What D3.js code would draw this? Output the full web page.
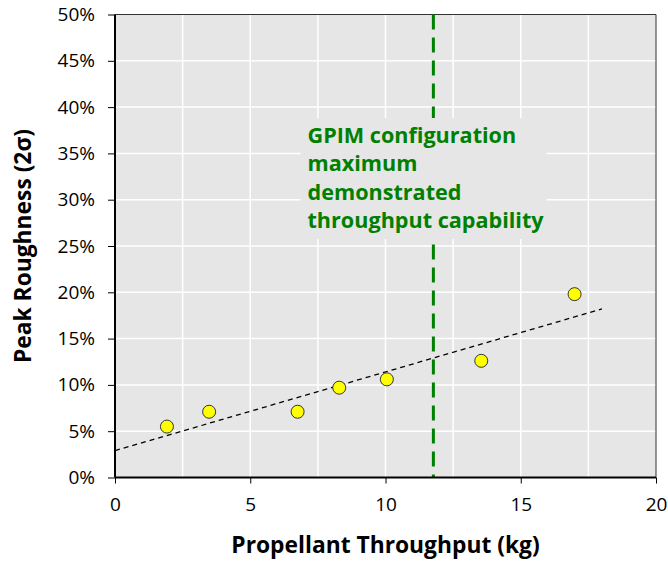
<!DOCTYPE html>
<meta charset="utf-8">
<style>
body { margin: 0; background: #fff; }
text { font-family: "Open Sans", sans-serif; fill: #000; }
.tick text { font-size: 19px; }
.axis-title { font-size: 22.8px; font-weight: bold; }
.note { font-size: 21.6px; font-weight: bold; fill: #008000; }
</style>
<svg width="668" height="565"></svg>
<script src="https://cdnjs.cloudflare.com/ajax/libs/d3/7.8.5/d3.min.js"></script>
<script>

// measured points (kg, % roughness)
var throughput = [1.92, 3.48, 6.75, 8.29, 10.05, 13.54, 16.99];
var roughness = [5.5, 7.1, 7.1, 9.7, 10.6, 12.6, 19.8];

// linear trend drawn in the original (end points)
var trendX = [0, 18];
var trendY = [2.9, 18.2];

var gpimLimit = 11.77;
var noteLines = ["GPIM configuration", "maximum", "demonstrated", "throughput capability"];

var xTicks = [0, 5, 10, 15, 20];
var yTicks = [0, 5, 10, 15, 20, 25, 30, 35, 40, 45, 50];

var svg = d3.select("svg"),
    margin = {top: 14.5, right: 12, bottom: 87.5, left: 115},
    width = +svg.attr("width") - margin.left - margin.right,
    height = +svg.attr("height") - margin.top - margin.bottom;

var g = svg.append("g").attr("transform", "translate(" + margin.left + "," + margin.top + ")");

var x = d3.scaleLinear().domain([0, 20]).range([0, width]);
var y = d3.scaleLinear().domain([0, 50]).range([height, 0]);

g.append("rect")
    .attr("width", width)
    .attr("height", height)
    .attr("fill", "#e6e6e6");

// gridlines
g.append("g").selectAll("line")
    .data(d3.range(2.5, 20, 2.5))
    .enter().append("line")
      .attr("x1", function(d) { return x(d); })
      .attr("x2", function(d) { return x(d); })
      .attr("y1", 0)
      .attr("y2", height)
      .attr("stroke", "#fff")
      .attr("stroke-width", 1.5);

g.append("g").selectAll("line")
    .data(yTicks.slice(1, -1))
    .enter().append("line")
      .attr("x1", 0)
      .attr("x2", width)
      .attr("y1", function(d) { return y(d); })
      .attr("y2", function(d) { return y(d); })
      .attr("stroke", "#fff")
      .attr("stroke-width", 1.5);

// top and right border
g.append("path")
    .attr("d", "M0,0H" + width + "V" + height)
    .attr("fill", "none")
    .attr("stroke", "#333")
    .attr("stroke-width", 1);

// trend line
g.append("line")
    .attr("x1", x(trendX[0]))
    .attr("y1", y(trendY[0]))
    .attr("x2", x(trendX[1]))
    .attr("y2", y(trendY[1]))
    .attr("stroke", "#000")
    .attr("stroke-width", 1.3)
    .attr("stroke-dasharray", "5,4");

// GPIM limit line
g.append("line")
    .attr("x1", x(gpimLimit))
    .attr("x2", x(gpimLimit))
    .attr("y1", 0)
    .attr("y2", height)
    .attr("stroke", "#008000")
    .attr("stroke-width", 3)
    .attr("stroke-dasharray", "15,8");

// annotation box
var noteX = 300.5 - margin.left, noteY = 118 - margin.top;
g.append("rect")
    .attr("x", noteX)
    .attr("y", noteY)
    .attr("width", 246)
    .attr("height", 121)
    .attr("fill", "#e6e6e6");

g.append("text")
    .attr("class", "note")
    .selectAll("tspan")
    .data(noteLines)
    .enter().append("tspan")
      .attr("x", noteX + 7)
      .attr("y", function(d, i) { return noteY + 24.7 + i * 28.5; })
      .text(function(d) { return d; });

// points
g.append("g").selectAll("circle")
    .data(throughput)
    .enter().append("circle")
      .attr("cx", function(d) { return x(d); })
      .attr("cy", function(d, i) { return y(roughness[i]); })
      .attr("r", 6.5)
      .attr("fill", "#ffff00")
      .attr("stroke", "#333")
      .attr("stroke-width", 1);

// axes
var xAxis = g.append("g")
    .attr("transform", "translate(0," + height + ")")
    .call(d3.axisBottom(x).tickValues(xTicks).tickSize(6).tickPadding(14));
xAxis.select(".domain").attr("stroke-width", 2).attr("d", "M0,0H" + width);

var yAxis = g.append("g")
    .call(d3.axisLeft(y).tickValues(yTicks).tickSize(7).tickPadding(13)
      .tickFormat(function(d) { return d + "%"; }));
yAxis.select(".domain").attr("stroke-width", 2).attr("d", "M0,0V" + height);

svg.selectAll(".tick text").attr("font-family", null).attr("font-size", null);

svg.append("text")
    .attr("class", "axis-title")
    .attr("x", margin.left + width / 2)
    .attr("y", 553)
    .attr("text-anchor", "middle")
    .text("Propellant Throughput (kg)");

svg.append("text")
    .attr("class", "axis-title")
    .attr("transform", "translate(31," + (margin.top + height / 2) + ") rotate(-90)")
    .attr("text-anchor", "middle")
    .text("Peak Roughness (2σ)");

</script>
